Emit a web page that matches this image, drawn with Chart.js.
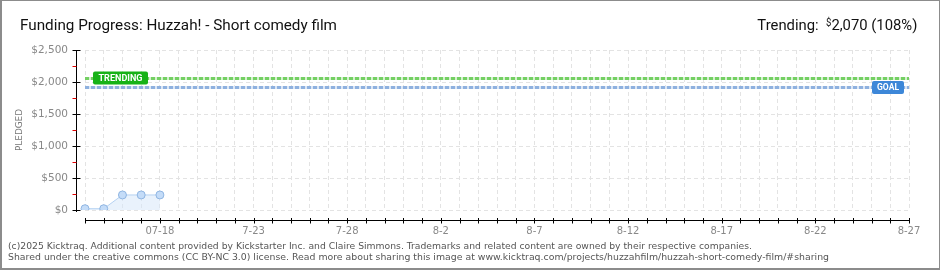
<!DOCTYPE html>
<html>
<head>
<meta charset="utf-8">
<script src="https://cdn.jsdelivr.net/npm/chart.js@4.4.1/dist/chart.umd.min.js"></script>
<style>
html,body{margin:0;padding:0;background:#fff;}
#wrap{position:relative;width:940px;height:270px;overflow:hidden;background:#fff;}
#frame{position:absolute;left:0;top:0;width:940px;height:270px;box-sizing:border-box;border:1px solid #8c8c8c;border-left-width:2px;border-bottom-width:2px;pointer-events:none;z-index:5;}
#c{position:absolute;left:0;top:0;z-index:2;}
.t{position:absolute;white-space:nowrap;line-height:0;z-index:3;}
#title{left:20px;font-family:Roboto,"DejaVu Sans",sans-serif;font-size:15.5px;color:#111;transform-origin:0 0;}
#trend{right:23px;font-family:Roboto,"DejaVu Sans",sans-serif;font-size:15.5px;color:#111;transform-origin:100% 0;}
#trend .d{font-size:10px;position:relative;top:-4px;}
.foot{left:8px;font-family:"DejaVu Sans",sans-serif;font-size:9.5px;color:#555;transform-origin:0 0;}
</style>
</head>
<body>
<div id="wrap">
  <canvas id="c" width="940" height="270"></canvas>
  <div class="t" id="title" data-base="30" data-w="317">Funding Progress: Huzzah! - Short comedy film</div>
  <div class="t" id="trend" data-base="30" data-w="160">Trending:&nbsp; <span class="d">$</span>2,070 (108%)</div>
  <div class="t foot" id="f1" data-base="249" data-w="744">(c)2025 Kicktraq. Additional content provided by Kickstarter Inc. and Claire Simmons. Trademarks and related content are owned by their respective companies.</div>
  <div class="t foot" id="f2" data-base="260" data-w="821">Shared under the creative commons (CC BY-NC 3.0) license. Read more about sharing this image at www.kicktraq.com/projects/huzzahfilm/huzzah-short-comedy-film/#sharing</div>
  <div id="frame"></div>
</div>
<script>
// ---- data ----
const categories = [
  '07-14','07-15','07-16','07-17','07-18','07-19','07-20','07-21','07-22','07-23',
  '07-24','07-25','07-26','07-27','07-28','07-29','07-30','07-31','08-01','08-02',
  '08-03','08-04','08-05','08-06','08-07','08-08','08-09','08-10','08-11','08-12',
  '08-13','08-14','08-15','08-16','08-17','08-18','08-19','08-20','08-21','08-22',
  '08-23','08-24','08-25','08-26','08-27'
];
const xTickText = [
  '','','','','07-18','','','','','7-23',
  '','','','','7-28','','','','','8-2',
  '','','','','8-7','','','','','8-12',
  '','','','','8-17','','','','','8-22',
  '','','','','8-27'
];
const pledged = [20, 20, 235, 235, 235];
const trendingValue = 2070;
const goalValue = 1917;
const yTickValues = [0, 500, 1000, 1500, 2000, 2500];
const yMinorValues = [250, 750, 1250, 1750, 2250];

// ---- text fitting for HTML labels ----
function placeTexts(){
  document.querySelectorAll('.t').forEach(el=>{
    el.style.transform='none';
    const fs = parseFloat(getComputedStyle(el).fontSize);
    el.style.top = (parseFloat(el.dataset.base) - 0.345*fs) + 'px';
    const w = el.getBoundingClientRect().width;
    const k = parseFloat(el.dataset.w)/w;
    el.style.transform = 'scaleX(' + k + ')';
  });
}
placeTexts();
if (document.fonts && document.fonts.ready) document.fonts.ready.then(placeTexts);

function fittedText(ctx, text, cx, cy, targetW, font, color){
  ctx.save();
  ctx.font = font;
  const w = ctx.measureText(text).width;
  ctx.translate(cx, cy);
  ctx.scale(targetW / w, 1);
  ctx.fillStyle = color;
  ctx.textAlign = 'center';
  ctx.textBaseline = 'middle';
  ctx.fillText(text, 0, 0);
  ctx.restore();
}

const overlay = {
  id: 'overlay',
  beforeDatasetsDraw(chart){
    const {ctx, chartArea:a, scales:{y}} = chart;
    ctx.save();
    const ref = (val, light, dark) => {
      const py = Math.round(y.getPixelForValue(val)) + 0.5;
      ctx.lineWidth = 3;
      ctx.setLineDash([]);
      ctx.strokeStyle = light;
      ctx.beginPath(); ctx.moveTo(a.left, py); ctx.lineTo(a.right, py); ctx.stroke();
      ctx.setLineDash([4, 2]);
      ctx.strokeStyle = dark;
      ctx.beginPath(); ctx.moveTo(a.left, py); ctx.lineTo(a.right, py); ctx.stroke();
    };
    ref(trendingValue, '#d6f1d0', '#74d063');
    ref(goalValue, '#dce7f5', '#8fb1df');
    ctx.restore();
  },
  afterDraw(chart){
    const {ctx, chartArea:a, scales:{x, y}} = chart;
    ctx.save();
    ctx.setLineDash([]);
    ctx.lineWidth = 1;
    // y axis line
    const ax = a.left - 8.5;
    ctx.strokeStyle = '#000';
    ctx.beginPath(); ctx.moveTo(ax, a.top); ctx.lineTo(ax, a.bottom + 2); ctx.stroke();
    yTickValues.forEach(v=>{
      const py = Math.round(y.getPixelForValue(v)) + 0.5;
      ctx.strokeStyle = '#000';
      ctx.beginPath(); ctx.moveTo(ax - 4, py); ctx.lineTo(ax + 4, py); ctx.stroke();
    });
    yMinorValues.forEach(v=>{
      const py = Math.round(y.getPixelForValue(v)) + 0.5;
      ctx.strokeStyle = '#e00000';
      ctx.beginPath(); ctx.moveTo(ax - 4, py); ctx.lineTo(ax, py); ctx.stroke();
    });
    // x axis line
    const ay = a.bottom + 10.5;
    ctx.strokeStyle = '#000';
    ctx.beginPath(); ctx.moveTo(a.left, ay); ctx.lineTo(a.right + 1, ay); ctx.stroke();
    categories.forEach((c, i)=>{
      const px = Math.round(x.getPixelForValue(i)) + 0.5;
      ctx.beginPath(); ctx.moveTo(px, ay - 2.5); ctx.lineTo(px, ay + 3); ctx.stroke();
    });
    // reference labels
    const ty = y.getPixelForValue(trendingValue);
    ctx.fillStyle = '#17b217';
    ctx.beginPath(); ctx.roundRect(a.left + 8, Math.round(ty) - 6.5, 55, 13, 2); ctx.fill();
    fittedText(ctx, 'TRENDING', a.left + 8 + 27.5, Math.round(ty) + 0.5, 44, 'bold 9.5px Roboto, "DejaVu Sans", sans-serif', '#fff');
    const gy = y.getPixelForValue(goalValue);
    ctx.fillStyle = '#3d87d8';
    ctx.beginPath(); ctx.roundRect(a.right - 37, Math.round(gy) - 6, 32, 13, 2); ctx.fill();
    fittedText(ctx, 'GOAL', a.right - 37 + 16, Math.round(gy) + 1, 22, 'bold 9.5px Roboto, "DejaVu Sans", sans-serif', '#fff');
    // axis title
    ctx.save();
    ctx.translate(20, (a.top + a.bottom) / 2);
    ctx.rotate(-Math.PI / 2);
    fittedText(ctx, 'PLEDGED', 0, 0, 42, '9px "DejaVu Sans", sans-serif', '#777');
    ctx.restore();
    ctx.restore();
  }
};

new Chart(document.getElementById('c'), {
  type: 'line',
  data: {
    labels: categories,
    datasets: [{
      data: pledged,
      borderColor: '#b4d1f2',
      borderWidth: 1,
      backgroundColor: 'rgba(215,232,250,0.55)',
      fill: 'origin',
      tension: 0,
      pointRadius: 4,
      pointBackgroundColor: '#c4dcf8',
      pointBorderColor: '#8fb5e2',
      pointBorderWidth: 1
    }]
  },
  options: {
    responsive: false,
    animation: false,
    devicePixelRatio: 1,
    layout: { padding: { top: 50, right: 31, left: 0, bottom: 0 } },
    plugins: { legend: { display: false }, tooltip: { enabled: false } },
    scales: {
      x: {
        type: 'category',
        offset: false,
        grid: { color: '#e3e3e3', drawTicks: false, lineWidth: 1 },
        border: { display: false, dash: [4, 3] },
        ticks: {
          autoSkip: false, maxRotation: 0, minRotation: 0, padding: 15,
          color: '#888', font: { family: '"DejaVu Sans", sans-serif', size: 10 },
          callback: (v, i) => xTickText[i]
        },
        afterFit: s => { s.height = 60; }
      },
      y: {
        min: 0, max: 2500,
        grid: { color: '#e3e3e3', drawTicks: false, lineWidth: 1 },
        border: { display: false, dash: [4, 3] },
        afterBuildTicks: s => { s.ticks = yTickValues.map(v => ({ value: v })); },
        ticks: {
          padding: 17, color: '#888',
          font: { family: '"DejaVu Sans", sans-serif', size: 10.5 },
          callback: v => '$' + Number(v).toLocaleString('en-US')
        },
        afterFit: s => { s.width = 85; }
      }
    }
  },
  plugins: [overlay]
});
</script>
</body>
</html>
